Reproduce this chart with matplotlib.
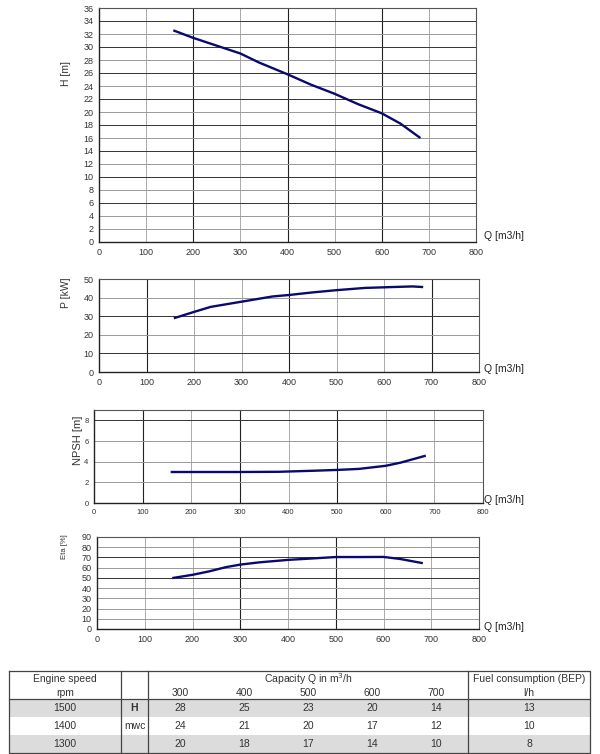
import matplotlib
matplotlib.use("Agg")
from matplotlib import pyplot as plt
from matplotlib.patches import Rectangle
import numpy as np

plt.rcParams['font.family'] = ['Liberation Sans', 'DejaVu Sans']

# curve data
q_h = [160, 200, 250, 300, 340, 400, 450, 500, 550, 600, 640, 680]
h = [32.5, 31.4, 30.2, 29.0, 27.6, 25.8, 24.2, 22.8, 21.2, 19.8, 18.2, 16.1]

q_p = [160, 200, 235, 300, 365, 400, 450, 500, 560, 620, 660, 680]
p = [29.1, 32.3, 35.0, 37.8, 40.6, 41.4, 42.8, 44.0, 45.2, 45.7, 46.0, 45.7]

q_npsh = [160, 250, 300, 380, 450, 500, 545, 600, 630, 680]
npsh = [3.0, 3.0, 3.0, 3.02, 3.12, 3.2, 3.3, 3.6, 3.9, 4.55]

q_eta = [160, 200, 235, 270, 300, 340, 400, 450, 500, 550, 600, 635, 680]
eta = [50.0, 53.0, 56.4, 60.5, 63.0, 65.2, 67.6, 69.0, 70.4, 70.4, 70.5, 68.5, 64.6]

# table data
capacities = [300, 400, 500, 600, 700]
speeds = [1500, 1400, 1300]
head_table = [[28, 25, 23, 20, 14],
              [24, 21, 20, 17, 12],
              [20, 18, 17, 14, 10]]
fuel = [13, 10, 8]

line_col = '#0a0a6e'
W, H = 600, 754
fig = plt.figure(figsize=(6, 7.54), dpi=100)


def make_ax(left, top, right, bottom):
    return fig.add_axes([left / W, 1 - bottom / H, (right - left) / W, (bottom - top) / H])


def style(ax, ymax, ystep, dark_x, dark_y, ylabel, ylab_xy, ylab_size, tick_size, qlab_y):
    ax.set_xlim(0, 800)
    ax.set_ylim(0, ymax)
    ax.set_xticks(np.arange(0, 801, 100))
    ax.set_yticks(np.arange(0, ymax + 0.1, ystep))
    for x in range(100, 800, 100):
        dark = x in dark_x
        ax.axvline(x, color='#222222' if dark else '#aaaaaa', lw=0.8 if dark else 0.7, zorder=1)
    for y in np.arange(ystep, ymax, ystep):
        dark = y in dark_y
        ax.axhline(y, color='#333333' if dark else '#999999', lw=0.7, zorder=1)
    ax.tick_params(length=0, labelsize=tick_size, colors='#333333', pad=4)
    for s in ax.spines.values():
        s.set_color('#555555')
        s.set_linewidth(0.8)
    ax.spines['left'].set_color('#222222')
    ax.spines['bottom'].set_color('#222222')
    ax.spines['left'].set_linewidth(1.0)
    ax.spines['bottom'].set_linewidth(1.0)
    fig.text(ylab_xy[0] / W, 1 - ylab_xy[1] / H, ylabel, rotation=90, ha='center', va='center',
             fontsize=ylab_size, color='#333333')
    fig.text(484 / W, 1 - qlab_y / H, 'Q [m3/h]', ha='left', va='center', fontsize=7.5, color='#222222')


ax1 = make_ax(99, 8, 476, 242)
ax1.plot(q_h, h, color=line_col, lw=1.7, zorder=3)
style(ax1, 36, 2, [200, 400, 600], [6, 10, 14, 18, 22, 26, 30, 34], 'H [m]', (66, 73), 7.5, 6.5, 236)

ax2 = make_ax(99, 279, 479, 372)
ax2.plot(q_p, p, color=line_col, lw=1.7, zorder=3)
style(ax2, 50, 10, [100, 400, 700], [10, 30], 'P [kW]', (66, 293), 7.5, 6.5, 369)

ax3 = make_ax(94, 410, 483, 503)
ax3.plot(q_npsh, npsh, color=line_col, lw=1.7, zorder=3)
style(ax3, 9, 2, [100, 300, 500], [8], 'NPSH [m]', (78, 440), 8, 5.5, 500)

ax4 = make_ax(97, 537, 479, 629)
ax4.plot(q_eta, eta, color=line_col, lw=1.7, zorder=3)
style(ax4, 90, 10, [300, 500], [50, 70], 'Eta [%]', (64, 547), 5.5, 6.5, 627)

# table drawn in pixel coordinates
tab = fig.add_axes([0, 0, 1, 1])
tab.set_xlim(0, W)
tab.set_ylim(H, 0)
tab.axis('off')

left, right, top = 9, 590, 671
c1, c2, c3 = 121, 148, 468
row_edges = [699, 717, 735, 753]
for i in range(3):
    if i % 2 == 0:
        tab.add_patch(Rectangle((left, row_edges[i]), right - left, row_edges[i + 1] - row_edges[i],
                                color='#dcdcdc', lw=0, zorder=0))
lc = '#444444'
tab.plot([left, right, right, left, left], [top, top, row_edges[-1], row_edges[-1], top], color=lc, lw=0.9)
tab.plot([left, right], [row_edges[0], row_edges[0]], color=lc, lw=0.9)
for x in (c1, c2, c3):
    tab.plot([x, x], [top, row_edges[-1]], color=lc, lw=0.9)

fs = 7.5
tc = '#333333'
tab.text((left + c1) / 2, 679, 'Engine speed', ha='center', va='center', fontsize=fs, color=tc)
tab.text((left + c1) / 2, 693, 'rpm', ha='center', va='center', fontsize=fs, color=tc)
tab.text((c2 + c3) / 2, 679, 'Capacity Q in m$^3$/h', ha='center', va='center', fontsize=fs, color=tc)
tab.text((c3 + right) / 2, 679, 'Fuel consumption (BEP)', ha='center', va='center', fontsize=fs, color=tc)
tab.text((c3 + right) / 2, 693, 'l/h', ha='center', va='center', fontsize=fs, color=tc)
colw = (c3 - c2) / len(capacities)
for j, c in enumerate(capacities):
    tab.text(c2 + colw * (j + 0.5), 693, str(c), ha='center', va='center', fontsize=fs, color=tc)
for i, s in enumerate(speeds):
    yc = (row_edges[i] + row_edges[i + 1]) / 2
    tab.text((left + c1) / 2, yc, str(s), ha='center', va='center', fontsize=fs, color=tc)
    for j, v in enumerate(head_table[i]):
        tab.text(c2 + colw * (j + 0.5), yc, str(v), ha='center', va='center', fontsize=fs, color=tc)
    tab.text((c3 + right) / 2, yc, str(fuel[i]), ha='center', va='center', fontsize=fs, color=tc)
tab.text((c1 + c2) / 2, (row_edges[0] + row_edges[1]) / 2, 'H', ha='center', va='center',
         fontsize=fs, color=tc, fontweight='bold')
tab.text((c1 + c2) / 2, (row_edges[1] + row_edges[2]) / 2, 'mwc', ha='center', va='center',
         fontsize=fs, color=tc)

fig.savefig('out.png', dpi=100, facecolor='white')
